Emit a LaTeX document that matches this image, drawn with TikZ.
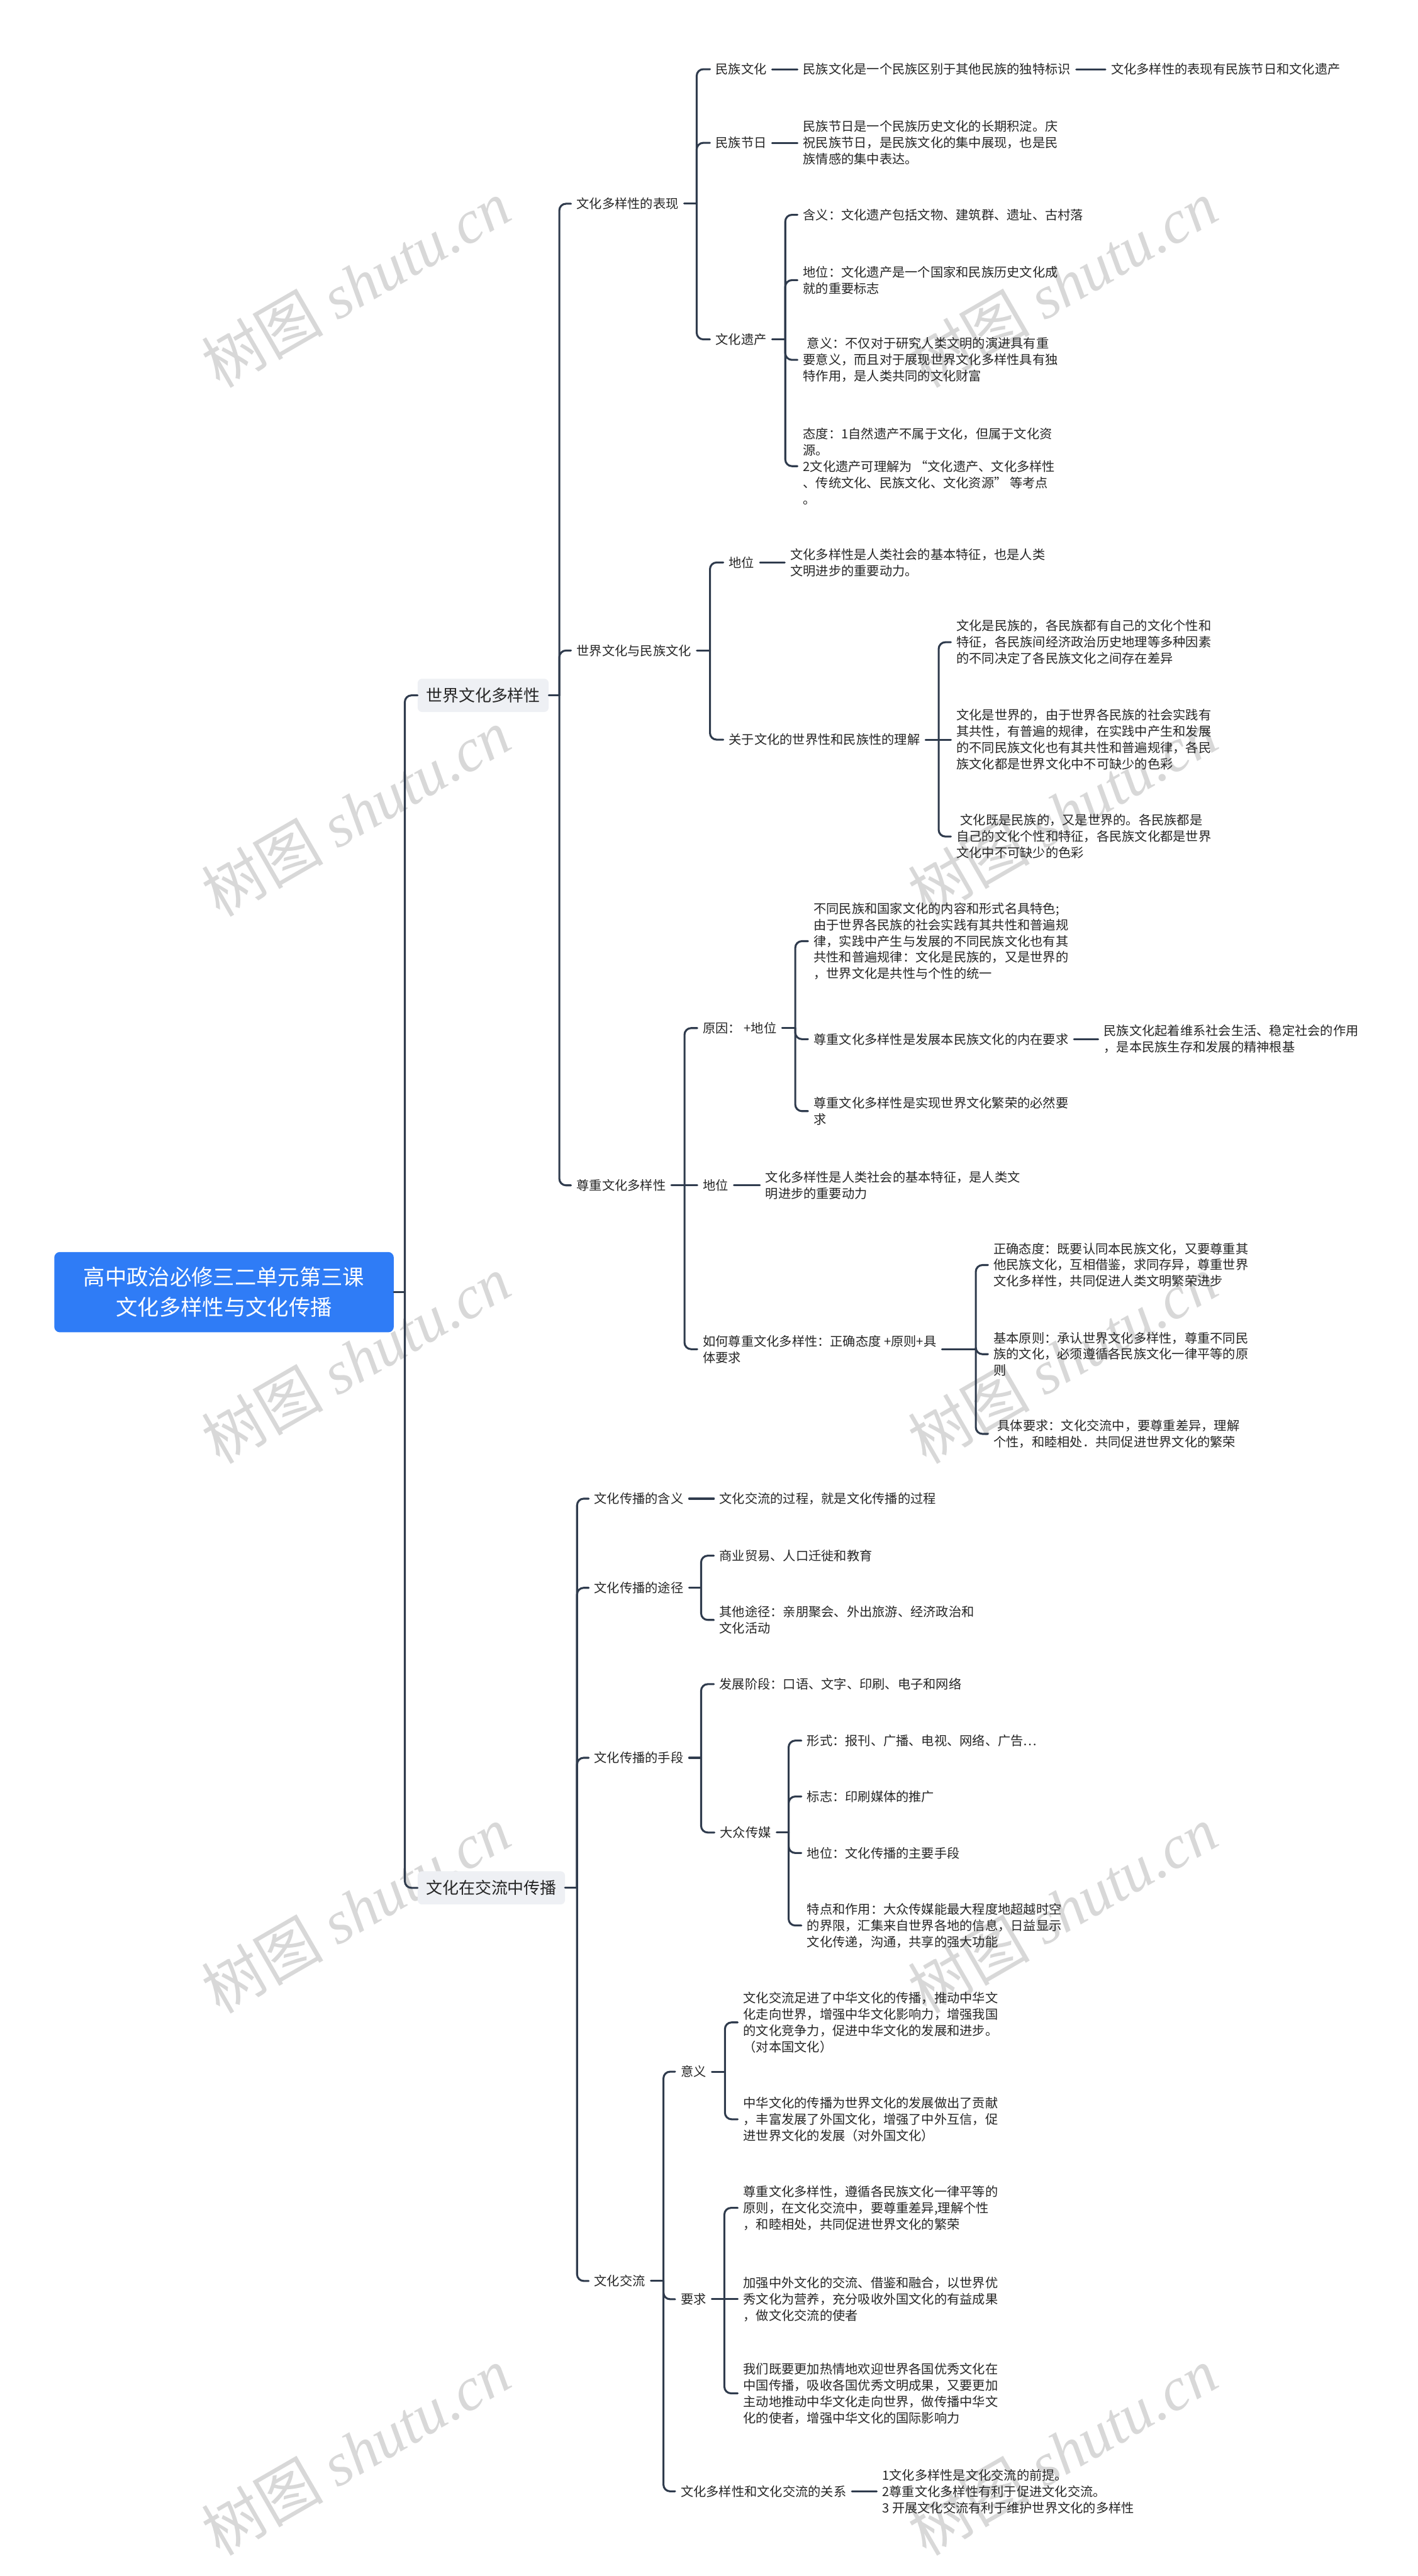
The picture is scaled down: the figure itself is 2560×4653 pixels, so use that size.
\documentclass[tikz,border=0pt]{standalone}
\usepackage{fontspec}
\setmainfont{Noto Sans CJK SC}
\newfontfamily\wmlat{Liberation Serif}
\definecolor{lc}{HTML}{2F3B4D}
\definecolor{txt}{HTML}{262626}
\definecolor{rootc}{HTML}{2F7CF6}
\definecolor{lonefill}{HTML}{EEF0F4}
\definecolor{wm}{HTML}{D8D8D8}
\newcommand\fs{\fontsize{23}{29.5}\selectfont}
\newcommand\branch[3]{%
  \draw[lk] (#1.east) -- (#2,0 |- #1.east);
  \foreach \c in {#3}{\draw[lk] (#2,0 |- #1.east) -- (#2,0 |- \c.west) -- (\c.west);}}
\newcommand\link[2]{\draw[lk] (#1.east) -- (#2.west);}
\begin{document}
\begin{tikzpicture}[x=1pt,y=-1pt,
  tx/.style={anchor=west, inner xsep=10pt, inner ysep=1pt, align=left, font=\fs, text=txt},
  lk/.style={draw=lc, line width=3.5pt, rounded corners=12pt, line cap=round},
  lone/.style={anchor=west, fill=lonefill, rounded corners=8pt, inner xsep=15pt, minimum height=60pt, font=\fontsize{29.5}{35}\selectfont, text=txt},
  rootbox/.style={fill=rootc, text=white, rounded corners=10pt, minimum width=613pt, minimum height=145pt, inner sep=0pt, align=center, font=\fontsize{39}{55}\selectfont},
  wmk/.style={text=wm, rotate=30, inner sep=0pt, anchor=base, font=\fontsize{110}{120}\selectfont}
]
\useasboundingbox (0,0) rectangle (2560,4653);
\fill[white] (0,0) rectangle (2560,4653);
\begin{scope}
\clip (0,0) rectangle (2560,4653);
\foreach \y in {519,1474,2462,3455,4434}{
  \foreach \x in {646,1922}{
    \node[wmk] at (\x-154,\y+129) {树图};
    \node[wmk] at (\x+124,\y-32) {\wmlat\itshape shutu.cn};
  }
}
\end{scope}

% root and level 1
\node[rootbox] (R) at (404.5,2334) {高中政治必修三二单元第三课\\文化多样性与文化传播};
\node[lone] (A) at (754,1256) {世界文化多样性};
\node[lone] (B) at (754,3410) {文化在交流中传播};

% level 2 of A
\node[tx] (A1) at (1031,368) {文化多样性的表现};
\node[tx] (A2) at (1031,1175) {世界文化与民族文化};
\node[tx] (A3) at (1031,2141) {尊重文化多样性};

% A1
\node[tx] (A1a) at (1282,125) {民族文化};
\node[tx] (A1a1) at (1440,125) {民族文化是一个民族区别于其他民族的独特标识};
\node[tx] (A1a2) at (1996,125) {文化多样性的表现有民族节日和文化遗产};
\node[tx] (A1b) at (1282,258) {民族节日};
\node[tx] (A1b1) at (1440,258) {民族节日是一个民族历史文化的长期积淀。庆\\祝民族节日，是民族文化的集中展现，也是民\\族情感的集中表达。};
\node[tx] (A1c) at (1282,613) {文化遗产};
\node[tx] (A1c1) at (1440,388) {含义：文化遗产包括文物、建筑群、遗址、古村落};
\node[tx] (A1c2) at (1440,506) {地位：文化遗产是一个国家和民族历史文化成\\就的重要标志};
\node[tx] (A1c3) at (1440,650) {\hspace*{7pt}意义：不仅对于研究人类文明的演进具有重\\要意义，而且对于展现世界文化多样性具有独\\特作用，是人类共同的文化财富};
\node[tx] (A1c4) at (1440,842) {态度：1自然遗产不属于文化，但属于文化资\\源。\\2文化遗产可理解为 “文化遗产、文化多样性\\、传统文化、民族文化、文化资源” 等考点\\。};

% A2
\node[tx] (A2a) at (1306,1016) {地位};
\node[tx] (A2a1) at (1417,1016) {文化多样性是人类社会的基本特征，也是人类\\文明进步的重要动力。};
\node[tx] (A2b) at (1306,1336) {关于文化的世界性和民族性的理解};
\node[tx] (A2b1) at (1717,1160) {文化是民族的，各民族都有自己的文化个性和\\特征，各民族间经济政治历史地理等多种因素\\的不同决定了各民族文化之间存在差异};
\node[tx] (A2b2) at (1717,1336) {文化是世界的，由于世界各民族的社会实践有\\其共性，有普遍的规律，在实践中产生和发展\\的不同民族文化也有其共性和普遍规律，各民\\族文化都是世界文化中不可缺少的色彩};
\node[tx] (A2b3) at (1717,1511) {\hspace*{7pt}文化既是民族的，又是世界的。各民族都是\\自己的文化个性和特征，各民族文化都是世界\\文化中不可缺少的色彩};

% A3
\node[tx] (A3a) at (1259,1857) {原因： +地位};
\node[tx] (A3a1) at (1459,1700) {不同民族和国家文化的内容和形式名具特色;\\由于世界各民族的社会实践有其共性和普遍规\\律，实践中产生与发展的不同民族文化也有其\\共性和普遍规律：文化是民族的，又是世界的\\，世界文化是共性与个性的统一};
\node[tx] (A3a2) at (1459,1877) {尊重文化多样性是发展本民族文化的内在要求};
\node[tx] (A3a21) at (1983,1877) {民族文化起着维系社会生活、稳定社会的作用\\，是本民族生存和发展的精神根基};
\node[tx] (A3a3) at (1459,2007) {尊重文化多样性是实现世界文化繁荣的必然要\\求};
\node[tx] (A3b) at (1259,2141) {地位};
\node[tx] (A3b1) at (1372,2141) {文化多样性是人类社会的基本特征，是人类文\\明进步的重要动力};
\node[tx] (A3c) at (1259,2437) {如何尊重文化多样性：正确态度 +原则+具\\体要求};
\node[tx] (A3c1) at (1784,2285) {正确态度：既要认同本民族文化，又要尊重其\\他民族文化，互相借鉴，求同存异，尊重世界\\文化多样性，共同促进人类文明繁荣进步};
\node[tx] (A3c2) at (1784,2446) {基本原则：承认世界文化多样性，尊重不同民\\族的文化，必须遵循各民族文化一律平等的原\\则};
\node[tx] (A3c3) at (1784,2590) {\hspace*{7pt}具体要求：文化交流中，要尊重差异，理解\\个性，和睦相处．共同促进世界文化的繁荣};

% B
\node[tx] (B1) at (1063,2707) {文化传播的含义};
\node[tx] (B11) at (1289,2707) {文化交流的过程，就是文化传播的过程};
\node[tx] (B2) at (1063,2868) {文化传播的途径};
\node[tx] (B21) at (1289,2810) {商业贸易、人口迁徙和教育};
\node[tx] (B22) at (1289,2926) {其他途径：亲朋聚会、外出旅游、经济政治和\\文化活动};
\node[tx] (B3) at (1063,3175) {文化传播的手段};
\node[tx] (B31) at (1289,3042) {发展阶段：口语、文字、印刷、电子和网络};
\node[tx] (B32) at (1290,3310) {大众传媒};
\node[tx] (B321) at (1447,3144) {形式：报刊、广播、电视、网络、广告…};
\node[tx] (B322) at (1447,3245) {标志：印刷媒体的推广};
\node[tx] (B323) at (1447,3347) {地位：文化传播的主要手段};
\node[tx] (B324) at (1447,3478) {特点和作用：大众传媒能最大程度地超越时空\\的界限，汇集来自世界各地的信息，日益显示\\文化传递，沟通，共享的强大功能};
\node[tx] (B4) at (1063,4120) {文化交流};
\node[tx] (B41) at (1219,3742) {意义};
\node[tx] (B411) at (1332,3653) {文化交流足进了中华文化的传播，推动中华文\\化走向世界，增强中华文化影响力，增强我国\\的文化竞争力，促进中华文化的发展和进步。\\（对本国文化）};
\node[tx] (B412) at (1332,3828) {中华文化的传播为世界文化的发展做出了贡献\\，丰富发展了外国文化，增强了中外互信，促\\进世界文化的发展（对外国文化）};
\node[tx] (B42) at (1219,4153) {要求};
\node[tx] (B421) at (1332,3988) {尊重文化多样性，遵循各民族文化一律平等的\\原则，在文化交流中，要尊重差异,理解个性\\，和睦相处，共同促进世界文化的繁荣};
\node[tx] (B422) at (1332,4153) {加强中外文化的交流、借鉴和融合，以世界优\\秀文化为营养，充分吸收外国文化的有益成果\\，做文化交流的使者};
\node[tx] (B423) at (1332,4323) {我们既要更加热情地欢迎世界各国优秀文化在\\中国传播，吸收各国优秀文明成果，又要更加\\主动地推动中华文化走向世界，做传播中华文\\化的使者，增强中华文化的国际影响力};
\node[tx] (B43) at (1219,4500) {文化多样性和文化交流的关系};
\node[tx] (B431) at (1583,4500) {1文化多样性是文化交流的前提。\\2尊重文化多样性有利于促进文化交流。\\3 开展文化交流有利于维护世界文化的多样性};

% connectors
\branch{R}{731}{A,B}
\branch{A}{1010}{A1,A2,A3}
\branch{A1}{1258}{A1a,A1b,A1c}
\link{A1a}{A1a1}
\link{A1a1}{A1a2}
\link{A1b}{A1b1}
\branch{A1c}{1418}{A1c1,A1c2,A1c3,A1c4}
\branch{A2}{1282}{A2a,A2b}
\link{A2a}{A2a1}
\branch{A2b}{1695}{A2b1,A2b3}
\link{A2b}{A2b2}
\branch{A3}{1236}{A3a,A3c}
\link{A3}{A3b}
\branch{A3a}{1436}{A3a1,A3a2,A3a3}
\link{A3a2}{A3a21}
\link{A3b}{A3b1}
\branch{A3c}{1762}{A3c1,A3c2,A3c3}
\branch{B}{1042}{B1,B2,B3,B4}
\link{B1}{B11}
\branch{B2}{1266}{B21,B22}
\branch{B3}{1266}{B31,B32}
\branch{B32}{1424}{B321,B322,B323,B324}
\branch{B4}{1198}{B41,B42,B43}
\branch{B41}{1309}{B411,B412}
\branch{B42}{1308}{B421,B423}
\link{B42}{B422}
\link{B43}{B431}
\end{tikzpicture}
\end{document}
